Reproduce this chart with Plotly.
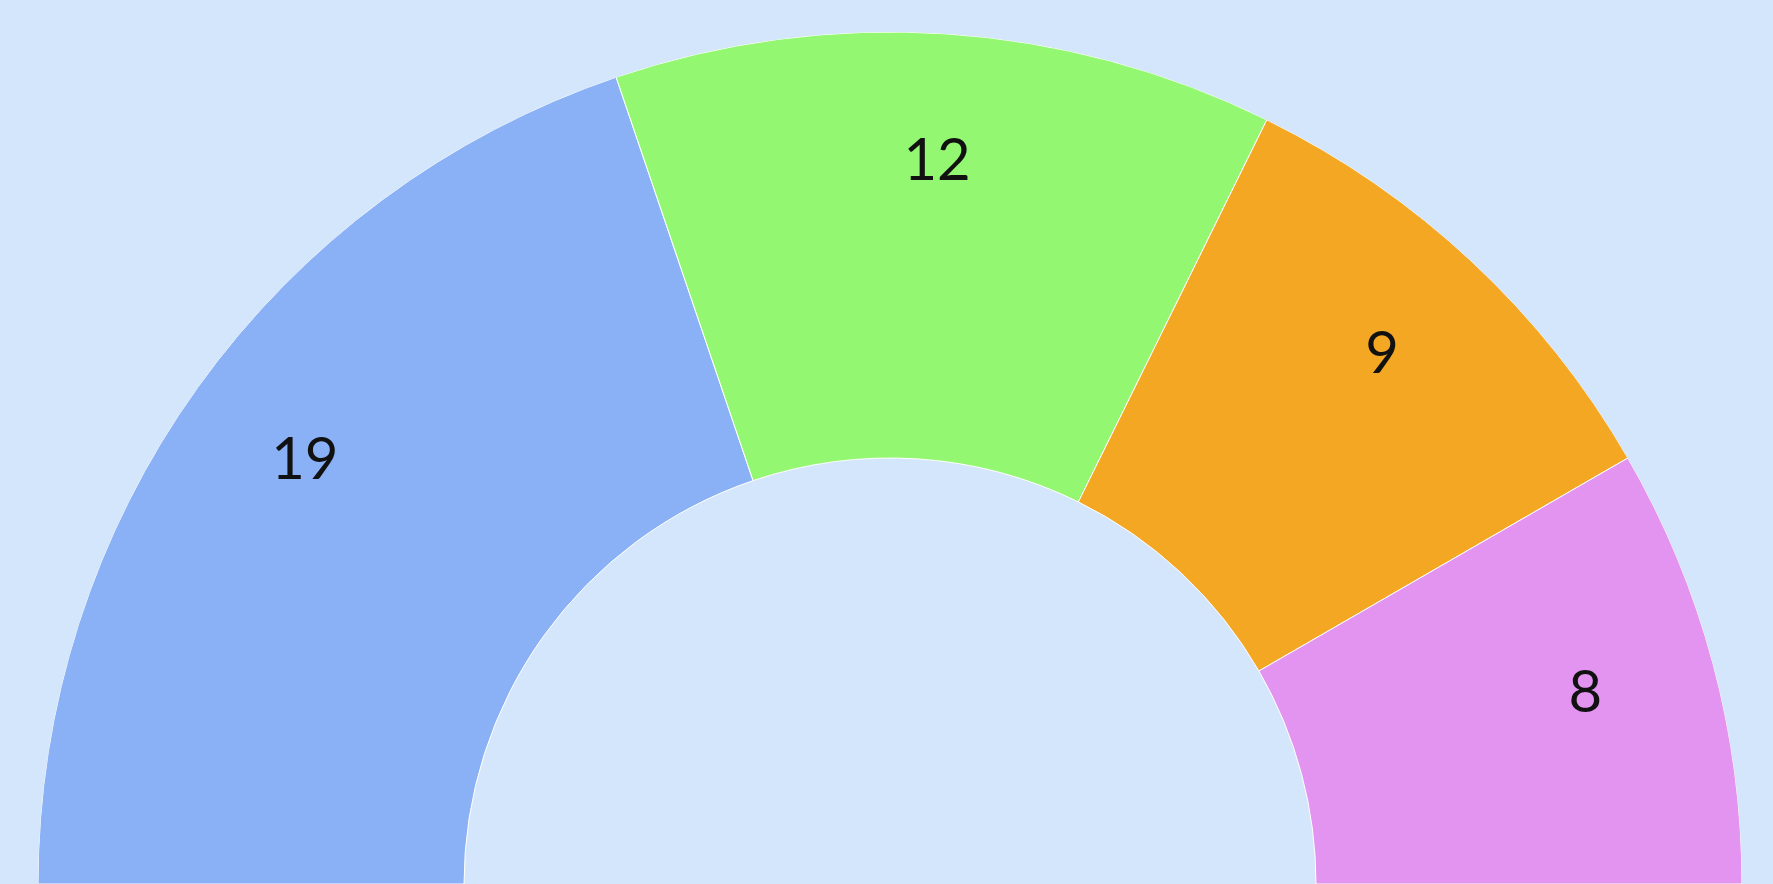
import plotly.graph_objects as go

# Data
categories = ["A", "B", "C", "D"]
values = [19, 12, 9, 8]
colors = ["#8AB0F5", "#94F772", "#F4A723", "#E394F0"]
bg = "#D4E6FB"

total = sum(values)
span = 180.0
widths = [v / total * span for v in values]
starts = []
acc = 0.0
for w in widths:
    starts.append(acc)
    acc += w
centers = [s + w / 2 for s, w in zip(starts, widths)]

fig = go.Figure()
fig.add_trace(go.Barpolar(
    r=[0.5] * len(values),
    base=[0.5] * len(values),
    theta=centers,
    width=widths,
    marker=dict(color=colors, line=dict(color="#FFFFFF", width=1)),
    text=categories,
    hoverinfo="text",
    showlegend=False,
))
fig.add_trace(go.Scatterpolar(
    r=[0.845] * len(values),
    theta=centers,
    mode="text",
    text=[str(v) for v in values],
    textfont=dict(family="Lato", size=58, color="#111111"),
    hoverinfo="skip",
    showlegend=False,
))

fig.update_layout(
    width=1773,
    height=884,
    margin=dict(l=38, r=31, t=32, b=0),
    paper_bgcolor=bg,
    plot_bgcolor=bg,
    polar=dict(
        bgcolor=bg,
        sector=[0, 180],
        domain=dict(x=[0, 1], y=[0, 1]),
        radialaxis=dict(visible=False, range=[0, 1]),
        angularaxis=dict(visible=False, direction="clockwise", rotation=180,
                         thetaunit="degrees"),
        bargap=0,
    ),
)

fig.write_html("out.html", config={"displayModeBar": False},
               post_script="document.body.style.margin='0';")
